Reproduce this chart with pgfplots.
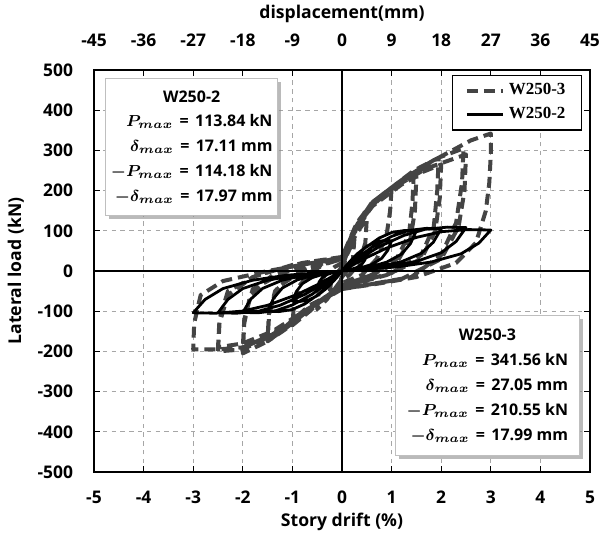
\documentclass[border=0pt]{standalone}
\usepackage{fontspec}
\setmainfont{Open Sans}
\newfontfamily\legfont{Liberation Serif}
\usepackage{pgfplots}
\pgfplotsset{compat=1.18}
\usetikzlibrary{shadows}
\definecolor{grayline}{HTML}{444444}
\newcommand{\eq}{\hspace{0.4em}=\hspace{0.4em}}

\begin{document}
\begin{tikzpicture}
\useasboundingbox (-47bp,-30.5bp) rectangle (253bp,236bp);
\begin{axis}[
    scale only axis, width=248bp, height=201bp,
    xmin=-5, xmax=5, ymin=-500, ymax=500,
    xtick={-5,-4,...,5}, ytick={-500,-400,...,500},
    xtick pos=bottom, ytick pos=both, yticklabel pos=left,
    grid=major,
    major grid style={gray!70, line width=0.4pt, dash pattern=on 2.2bp off 2.2bp},
    axis line style={black, line width=0.6pt},
    major tick length=3bp,
    tick style={black, line width=0.5pt},
    tick label style={font=\bfseries\fontsize{8.7bp}{10bp}\selectfont},
    /pgf/number format/assume math mode=true,
    xticklabel style={yshift=-6bp},
    yticklabel style={xshift=-7bp},
    xlabel={Story drift (\%)}, ylabel={Lateral load (kN)},
    label style={font=\bfseries\fontsize{8.8bp}{10bp}\selectfont},
    xlabel style={yshift=2bp},
    ylabel style={yshift=0bp},
    clip=false,
    legend style={at={(rel axis cs:0.984,0.988)}, anchor=north east,
        font=\legfont\bfseries\fontsize{8.5bp}{10bp}\selectfont,
        draw=black, line width=0.6pt, inner xsep=6bp, inner ysep=2bp,
        row sep=1bp},
    legend cell align=left,
    legend image code/.code={\draw[#1] (0bp,0bp) -- (18bp,0bp);},
]
% W250-3
\addplot[grayline, line width=2bp, dash pattern=on 5.5bp off 3bp, line join=round] coordinates {
(0,0) (0.1,40) (0.25,80) (0.22,30) (0.1,0) (0,-15) (-0.1,-40) (-0.25,-60) (-0.22,-25) (-0.1,-5) (0,10)
(0.15,60) (0.3,95) (0.5,130) (0.47,70) (0.35,20) (0.15,-10) (0,-20) (-0.15,-45) (-0.3,-70) (-0.5,-95) (-0.47,-50) (-0.35,-10) (-0.15,10) (0,20)
(0.15,70) (0.35,120) (0.6,165) (1,205) (0.97,150) (0.9,90) (0.7,30) (0.4,-10) (0,-30) (-0.3,-60) (-0.65,-100) (-1,-135) (-0.97,-85) (-0.85,-35) (-0.6,0) (-0.3,20) (0,30)
(0.2,90) (0.45,145) (1,205) (1.45,250) (1.42,170) (1.35,90) (1.1,30) (0.6,-10) (0,-35) (-0.4,-70) (-0.8,-115) (-1.2,-150) (-1.5,-175) (-1.47,-110) (-1.35,-50) (-1,-10) (-0.5,15) (0,30)
(0.25,95) (0.6,160) (1.2,215) (1.5,235) (1.47,150) (1.38,80) (1.1,20) (0.5,-15) (0,-35) (-0.45,-75) (-0.9,-120) (-1.5,-165) (-1.47,-100) (-1.3,-40) (-0.8,0) (0,30)
(0.25,105) (0.6,170) (1.45,250) (1.95,282) (1.92,200) (1.85,110) (1.6,40) (1,-5) (0.4,-25) (0,-40) (-0.5,-80) (-1,-130) (-1.5,-175) (-2,-205) (-1.97,-130) (-1.85,-60) (-1.4,-10) (-0.7,15) (0,35)
(0.3,110) (0.7,175) (1.5,240) (2,265) (1.97,180) (1.88,100) (1.6,30) (0.9,-10) (0,-40) (-0.6,-90) (-1.2,-140) (-1.7,-175) (-2,-190) (-1.97,-120) (-1.8,-45) (-1.2,-5) (-0.5,20) (0,35)
(0.3,115) (0.65,175) (1,205) (1.95,282) (2.45,305) (2.42,220) (2.3,120) (2,40) (1.4,-15) (0.7,-30) (0,-45) (-0.6,-85) (-1.25,-150) (-2,-195) (-2.5,-200) (-2.47,-130) (-2.3,-60) (-1.8,-15) (-1,15) (0,35)
(0.35,120) (0.8,190) (1.7,255) (2.5,290) (2.47,200) (2.35,110) (2,30) (1.2,-20) (0,-45) (-0.7,-95) (-1.4,-150) (-2,-180) (-2.5,-190) (-2.47,-120) (-2.3,-50) (-1.7,-10) (-0.8,20) (0,35)
(0.3,120) (0.63,173) (1.2,226) (1.77,270) (2.3,305) (2.6,325) (3,342) (3,290) (2.97,220) (2.9,150) (2.7,70) (2.3,20) (1.5,-15) (0.8,-30) (0,-45) (-0.65,-85) (-1.25,-150) (-2,-190) (-2.5,-195) (-3,-195) (-2.98,-130) (-2.85,-60) (-2.4,-25) (-1.5,0) (-0.6,20) (0,30)
};
\addlegendentry{\textbf{W250-3}}
% W250-2
\addplot[black, line width=1.4bp, line join=round] coordinates {
(0,0) (0.185,4) (0.3,8.8) (0.4,16.8) (0.46,27.2) (0.5,40) (0.425,40.4) (0.335,38.4) (0.25,32.8) (0.15,22.4) (0.075,12) (0,0)
(-0.185,-4) (-0.3,-8.8) (-0.4,-16.8) (-0.46,-27.2) (-0.5,-40) (-0.425,-40.4) (-0.335,-38.4) (-0.25,-32.8) (-0.15,-22.4) (-0.075,-12) (0,0)
(0.37,7.5) (0.6,16.5) (0.8,31.5) (0.92,51) (1,75) (0.85,75.8) (0.67,72) (0.5,61.5) (0.3,42) (0.15,22.5) (0,0)
(-0.37,-7.5) (-0.6,-16.5) (-0.8,-31.5) (-0.92,-51) (-1,-75) (-0.85,-75.8) (-0.67,-72) (-0.5,-61.5) (-0.3,-42) (-0.15,-22.5) (0,0)
(0.555,10) (0.9,22) (1.2,42) (1.38,68) (1.5,100) (1.275,101) (1.005,96) (0.75,82) (0.45,56) (0.225,30) (0,0)
(-0.555,-10) (-0.9,-22) (-1.2,-42) (-1.38,-68) (-1.5,-100) (-1.275,-101) (-1.005,-96) (-0.75,-82) (-0.45,-56) (-0.225,-30) (0,0)
(0.74,10.5) (1.2,23.1) (1.6,44.1) (1.84,71.4) (2,105) (1.7,106.1) (1.34,100.8) (1,86.1) (0.6,58.8) (0.3,31.5) (0,0)
(-0.74,-10.3) (-1.2,-22.7) (-1.6,-43.3) (-1.84,-70) (-2,-103) (-1.7,-104) (-1.34,-98.9) (-1,-84.5) (-0.6,-57.7) (-0.3,-30.9) (0,0)
(0.925,10.8) (1.5,23.8) (2,45.4) (2.3,73.4) (2.5,108) (2.125,109.1) (1.675,103.7) (1.25,88.6) (0.75,60.5) (0.375,32.4) (0,0)
(-0.925,-10.4) (-1.5,-22.9) (-2,-43.7) (-2.3,-70.7) (-2.5,-104) (-2.125,-105) (-1.675,-99.8) (-1.25,-85.3) (-0.75,-58.2) (-0.375,-31.2) (0,0)
(1.11,10.2) (1.8,22.4) (2.4,42.8) (2.76,69.4) (3,102) (2.55,103) (2.01,97.9) (1.5,83.6) (0.9,57.1) (0.45,30.6) (0,0)
(-1.11,-10.4) (-1.8,-22.9) (-2.4,-43.7) (-2.76,-70.7) (-3,-104) (-2.55,-105) (-2.01,-99.8) (-1.5,-85.3) (-0.9,-58.2) (-0.45,-31.2) (0,0)
};
\addlegendentry{\textbf{W250-2}}
\draw[black, line width=0.6pt] (axis cs:0,-500) -- (axis cs:0,500);
\draw[black, line width=0.6pt] (axis cs:-5,0) -- (axis cs:5,0);
\node[draw=gray!50, fill=white, line width=0.4pt,
      drop shadow={shadow xshift=1.8bp, shadow yshift=-1.8bp, fill=black!45, opacity=0.6},
      minimum width=86bp, minimum height=68bp, inner xsep=2bp,
      font=\bfseries\fontsize{8bp}{12.4bp}\selectfont\boldmath]
  at (axis cs:-3.03,309)
  {\begin{tabular}{@{}r@{}}\multicolumn{1}{@{}c@{}}{W250-2}\\ $P_{max}$\eq113.84 kN\\ $\delta_{max}$\eq17.11 mm\\ $-P_{max}$\eq114.18 kN\\ $-\delta_{max}$\eq17.97 mm\end{tabular}};
\node[draw=gray!50, fill=white, line width=0.4pt,
      drop shadow={shadow xshift=1.8bp, shadow yshift=-1.8bp, fill=black!45, opacity=0.6},
      minimum width=92bp, minimum height=70bp, inner xsep=2bp,
      font=\bfseries\fontsize{8bp}{12.4bp}\selectfont\boldmath]
  at (axis cs:2.93,-285)
  {\begin{tabular}{@{}r@{}}\multicolumn{1}{@{}c@{}}{W250-3}\\ $P_{max}$\eq341.56 kN\\ $\delta_{max}$\eq27.05 mm\\ $-P_{max}$\eq210.55 kN\\ $-\delta_{max}$\eq17.99 mm\end{tabular}};
\end{axis}
\begin{axis}[
    scale only axis, width=248bp, height=201bp,
    xmin=-45, xmax=45, ymin=-500, ymax=500,
    axis x line*=top, hide y axis,
    xtick={-45,-36,...,45},
    axis line style={black, line width=0.6pt},
    major tick length=3bp,
    tick style={black, line width=0.5pt},
    tick label style={font=\bfseries\fontsize{8.7bp}{10bp}\selectfont},
    /pgf/number format/assume math mode=true,
    xticklabel style={yshift=8bp},
    xlabel={displacement(mm)},
    label style={font=\bfseries\fontsize{8.8bp}{10bp}\selectfont},
    xlabel style={yshift=-1bp},
]
\addplot[draw=none] coordinates {(0,0)};
\end{axis}
\end{tikzpicture}
\end{document}
